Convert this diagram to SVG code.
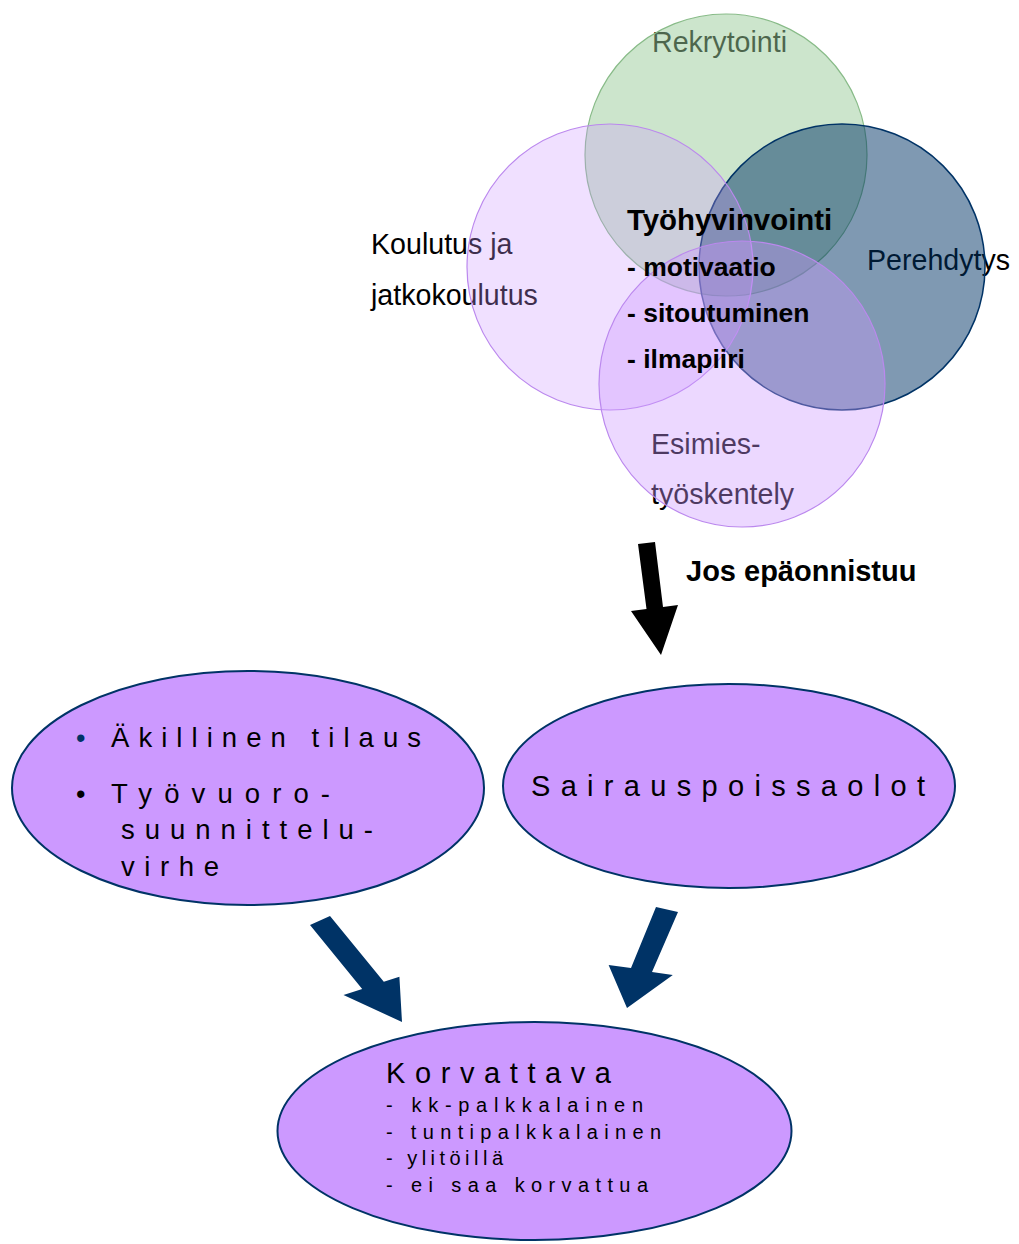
<svg xmlns="http://www.w3.org/2000/svg" width="1019" height="1244" viewBox="0 0 1019 1244">
<style>
  .lbl { font-family: "Liberation Sans", Arial, sans-serif; font-size: 28.6px; fill: #000; }
  .bold { font-family: "Liberation Sans", Arial, sans-serif; font-weight: bold; fill: #000; }
  .sp { font-family: "Liberation Sans", Arial, sans-serif; fill: #000; }
  .node { fill: #cc99ff; stroke: #003366; stroke-width: 2; }
  .arrowNavy { fill: #003366; }
  .arrowBlack { fill: #000; }
</style>
<rect width="1019" height="1244" fill="#ffffff"/>

<g id="venn">
  <g id="labels">
    <text class="lbl" x="652" y="52">Rekrytointi</text>
    <text class="lbl" x="371" y="254">Koulutus ja</text>
    <text class="lbl" x="371" y="305">jatkokoulutus</text>
    <text class="lbl" x="867" y="270">Perehdytys</text>
    <text class="lbl" x="651" y="454">Esimies-</text>
    <text class="lbl" x="651" y="504">työskentely</text>
  </g>
  <g id="rekrytointi"><circle cx="726" cy="155" r="141" fill="#99cc99" fill-opacity="0.5" stroke="#88bb88" stroke-width="1.2"/></g>
  <g id="perehdytys"><circle cx="842" cy="267" r="143" fill="#003366" fill-opacity="0.5" stroke="#003366" stroke-width="1.5"/></g>
  <g id="koulutus"><circle cx="610" cy="267" r="143" fill="#cc99ff" fill-opacity="0.3" stroke="#bb88ee" stroke-width="1.2"/></g>
  <g id="esimies"><circle cx="742" cy="384" r="143" fill="#cc99ff" fill-opacity="0.38" stroke="#bb88ee" stroke-width="1.2"/></g>
  <g id="tyohyvinvointi">
    <text class="bold" x="627" y="230" font-size="29.4">Työhyvinvointi</text>
    <text class="bold" x="627" y="276" font-size="26.5">- motivaatio</text>
    <text class="bold" x="627" y="322" font-size="26.5">- sitoutuminen</text>
    <text class="bold" x="627" y="368" font-size="26.5">- ilmapiiri</text>
  </g>
</g>

<g id="connectors">
  <polygon class="arrowBlack" points="638,544 655,542 663,607 678,605 661,655 631,611 646.5,609"/>
  <text class="bold" x="686" y="581" font-size="29">Jos epäonnistuu</text>
  <polygon class="arrowNavy" points="310,925 330,916 383.8,981.8 399.4,976.7 402,1022 343.5,995 362.2,988.9"/>
  <polygon class="arrowNavy" points="656,907 678,912 652,972 672.8,975 627,1008 608.6,965 631,968"/>
</g>

<g id="syyt">
  <ellipse class="node" cx="248" cy="788" rx="236" ry="117"/>
  <text class="sp" x="76" y="747" font-size="27" style="fill:#003366">•</text>
  <text class="sp" x="111" y="747" font-size="27.5" textLength="310" lengthAdjust="spacing">Äkillinen tilaus</text>
  <text class="sp" x="76" y="803" font-size="27">•</text>
  <text class="sp" x="111" y="803" font-size="27.5" textLength="219" lengthAdjust="spacing">Työvuoro-</text>
  <text class="sp" x="121" y="839" font-size="27.5" textLength="252" lengthAdjust="spacing">suunnittelu-</text>
  <text class="sp" x="121" y="876" font-size="27.5" textLength="98" lengthAdjust="spacing">virhe</text>
</g>

<g id="sairauspoissaolot">
  <ellipse class="node" cx="729" cy="786" rx="226" ry="102"/>
  <text class="sp" x="531" y="796" font-size="29" textLength="394" lengthAdjust="spacing">Sairauspoissaolot</text>
</g>

<g id="korvattava">
  <ellipse class="node" cx="534.5" cy="1131" rx="257" ry="109"/>
  <text class="sp" x="386" y="1083" font-size="29" textLength="225" lengthAdjust="spacing">Korvattava</text>
  <text class="sp" x="386" y="1112" font-size="20" textLength="257" lengthAdjust="spacing">- kk-palkkalainen</text>
  <text class="sp" x="386" y="1139" font-size="20" textLength="275" lengthAdjust="spacing">- tuntipalkkalainen</text>
  <text class="sp" x="386" y="1165" font-size="20" textLength="117" lengthAdjust="spacing">- ylitöillä</text>
  <text class="sp" x="386" y="1192" font-size="20" textLength="262" lengthAdjust="spacing">- ei saa korvattua</text>
</g>
</svg>
